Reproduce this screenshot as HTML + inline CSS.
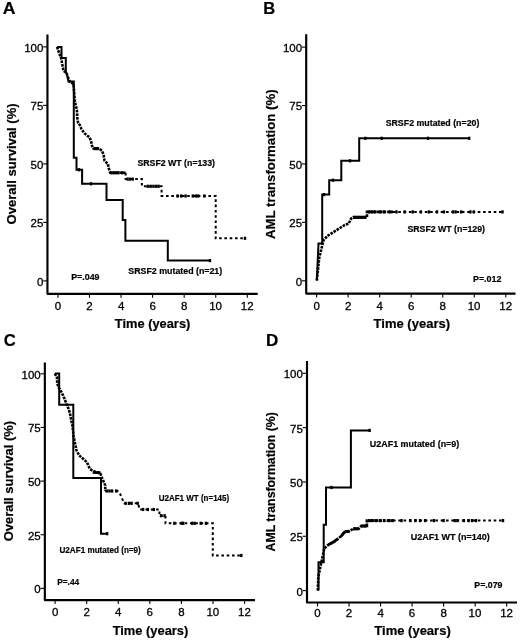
<!DOCTYPE html>
<html><head><meta charset="utf-8"><style>
html,body{margin:0;padding:0;background:#fff;}
svg{display:block;font-family:"Liberation Sans", sans-serif;will-change:transform;filter:blur(0.3px);}
</style></head><body>
<svg width="520" height="642" viewBox="0 0 520 642">
<rect width="520" height="642" fill="#fff"/>
<path d="M47.45,34.4 V293.85 H257.7" fill="none" stroke="#000" stroke-width="2.15" stroke-linejoin="round"/>
<line x1="43.15" y1="46.9" x2="47.45" y2="46.9" stroke="#000" stroke-width="1.1"/>
<text x="24.16" y="51.8" font-size="11.5" font-weight="normal" stroke="#000" stroke-width="0.3">100</text>
<line x1="43.15" y1="105.4" x2="47.45" y2="105.4" stroke="#000" stroke-width="1.1"/>
<text x="30.55" y="110.3" font-size="11.5" font-weight="normal" stroke="#000" stroke-width="0.3">75</text>
<line x1="43.15" y1="163.9" x2="47.45" y2="163.9" stroke="#000" stroke-width="1.1"/>
<text x="30.55" y="168.8" font-size="11.5" font-weight="normal" stroke="#000" stroke-width="0.3">50</text>
<line x1="43.15" y1="222.4" x2="47.45" y2="222.4" stroke="#000" stroke-width="1.1"/>
<text x="30.55" y="227.3" font-size="11.5" font-weight="normal" stroke="#000" stroke-width="0.3">25</text>
<line x1="43.15" y1="280.9" x2="47.45" y2="280.9" stroke="#000" stroke-width="1.1"/>
<text x="36.93" y="285.8" font-size="11.5" font-weight="normal" stroke="#000" stroke-width="0.3">0</text>
<line x1="57.9" y1="293.85" x2="57.9" y2="297.75" stroke="#000" stroke-width="1.1"/>
<text x="54.71" y="309.5" font-size="11.5" font-weight="normal" stroke="#000" stroke-width="0.3">0</text>
<line x1="89.47" y1="293.85" x2="89.47" y2="297.75" stroke="#000" stroke-width="1.1"/>
<text x="86.28" y="309.5" font-size="11.5" font-weight="normal" stroke="#000" stroke-width="0.3">2</text>
<line x1="121.04" y1="293.85" x2="121.04" y2="297.75" stroke="#000" stroke-width="1.1"/>
<text x="117.88" y="309.5" font-size="11.5" font-weight="normal" stroke="#000" stroke-width="0.3">4</text>
<line x1="152.61" y1="293.85" x2="152.61" y2="297.75" stroke="#000" stroke-width="1.1"/>
<text x="149.39" y="309.5" font-size="11.5" font-weight="normal" stroke="#000" stroke-width="0.3">6</text>
<line x1="184.18" y1="293.85" x2="184.18" y2="297.75" stroke="#000" stroke-width="1.1"/>
<text x="180.96" y="309.5" font-size="11.5" font-weight="normal" stroke="#000" stroke-width="0.3">8</text>
<line x1="215.75" y1="293.85" x2="215.75" y2="297.75" stroke="#000" stroke-width="1.1"/>
<text x="209.17" y="309.5" font-size="11.5" font-weight="normal" stroke="#000" stroke-width="0.3">10</text>
<line x1="247.32" y1="293.85" x2="247.32" y2="297.75" stroke="#000" stroke-width="1.1"/>
<text x="240.79" y="309.5" font-size="11.5" font-weight="normal" stroke="#000" stroke-width="0.3">12</text>
<path d="M306.2,34.2 V293.55 H515.5" fill="none" stroke="#000" stroke-width="2.15" stroke-linejoin="round"/>
<line x1="301.9" y1="47.1" x2="306.2" y2="47.1" stroke="#000" stroke-width="1.1"/>
<text x="282.91" y="52" font-size="11.5" font-weight="normal" stroke="#000" stroke-width="0.3">100</text>
<line x1="301.9" y1="105.53" x2="306.2" y2="105.53" stroke="#000" stroke-width="1.1"/>
<text x="289.29" y="110.43" font-size="11.5" font-weight="normal" stroke="#000" stroke-width="0.3">75</text>
<line x1="301.9" y1="163.95" x2="306.2" y2="163.95" stroke="#000" stroke-width="1.1"/>
<text x="289.29" y="168.85" font-size="11.5" font-weight="normal" stroke="#000" stroke-width="0.3">50</text>
<line x1="301.9" y1="222.38" x2="306.2" y2="222.38" stroke="#000" stroke-width="1.1"/>
<text x="289.29" y="227.28" font-size="11.5" font-weight="normal" stroke="#000" stroke-width="0.3">25</text>
<line x1="301.9" y1="280.8" x2="306.2" y2="280.8" stroke="#000" stroke-width="1.1"/>
<text x="295.68" y="285.7" font-size="11.5" font-weight="normal" stroke="#000" stroke-width="0.3">0</text>
<line x1="316.6" y1="293.55" x2="316.6" y2="297.45" stroke="#000" stroke-width="1.1"/>
<text x="313.41" y="309.5" font-size="11.5" font-weight="normal" stroke="#000" stroke-width="0.3">0</text>
<line x1="348.13" y1="293.55" x2="348.13" y2="297.45" stroke="#000" stroke-width="1.1"/>
<text x="344.94" y="309.5" font-size="11.5" font-weight="normal" stroke="#000" stroke-width="0.3">2</text>
<line x1="379.66" y1="293.55" x2="379.66" y2="297.45" stroke="#000" stroke-width="1.1"/>
<text x="376.5" y="309.5" font-size="11.5" font-weight="normal" stroke="#000" stroke-width="0.3">4</text>
<line x1="411.19" y1="293.55" x2="411.19" y2="297.45" stroke="#000" stroke-width="1.1"/>
<text x="407.97" y="309.5" font-size="11.5" font-weight="normal" stroke="#000" stroke-width="0.3">6</text>
<line x1="442.72" y1="293.55" x2="442.72" y2="297.45" stroke="#000" stroke-width="1.1"/>
<text x="439.5" y="309.5" font-size="11.5" font-weight="normal" stroke="#000" stroke-width="0.3">8</text>
<line x1="474.25" y1="293.55" x2="474.25" y2="297.45" stroke="#000" stroke-width="1.1"/>
<text x="467.67" y="309.5" font-size="11.5" font-weight="normal" stroke="#000" stroke-width="0.3">10</text>
<line x1="505.78" y1="293.55" x2="505.78" y2="297.45" stroke="#000" stroke-width="1.1"/>
<text x="499.25" y="309.5" font-size="11.5" font-weight="normal" stroke="#000" stroke-width="0.3">12</text>
<path d="M44.85,362.4 V600.05 H255" fill="none" stroke="#000" stroke-width="2.15" stroke-linejoin="round"/>
<line x1="40.55" y1="373.8" x2="44.85" y2="373.8" stroke="#000" stroke-width="1.1"/>
<text x="21.56" y="378.7" font-size="11.5" font-weight="normal" stroke="#000" stroke-width="0.3">100</text>
<line x1="40.55" y1="427.45" x2="44.85" y2="427.45" stroke="#000" stroke-width="1.1"/>
<text x="27.95" y="432.35" font-size="11.5" font-weight="normal" stroke="#000" stroke-width="0.3">75</text>
<line x1="40.55" y1="481.1" x2="44.85" y2="481.1" stroke="#000" stroke-width="1.1"/>
<text x="27.95" y="486" font-size="11.5" font-weight="normal" stroke="#000" stroke-width="0.3">50</text>
<line x1="40.55" y1="534.75" x2="44.85" y2="534.75" stroke="#000" stroke-width="1.1"/>
<text x="27.95" y="539.65" font-size="11.5" font-weight="normal" stroke="#000" stroke-width="0.3">25</text>
<line x1="40.55" y1="588.4" x2="44.85" y2="588.4" stroke="#000" stroke-width="1.1"/>
<text x="34.33" y="593.3" font-size="11.5" font-weight="normal" stroke="#000" stroke-width="0.3">0</text>
<line x1="55.1" y1="600.05" x2="55.1" y2="603.95" stroke="#000" stroke-width="1.1"/>
<text x="51.91" y="615.5" font-size="11.5" font-weight="normal" stroke="#000" stroke-width="0.3">0</text>
<line x1="86.68" y1="600.05" x2="86.68" y2="603.95" stroke="#000" stroke-width="1.1"/>
<text x="83.49" y="615.5" font-size="11.5" font-weight="normal" stroke="#000" stroke-width="0.3">2</text>
<line x1="118.26" y1="600.05" x2="118.26" y2="603.95" stroke="#000" stroke-width="1.1"/>
<text x="115.1" y="615.5" font-size="11.5" font-weight="normal" stroke="#000" stroke-width="0.3">4</text>
<line x1="149.84" y1="600.05" x2="149.84" y2="603.95" stroke="#000" stroke-width="1.1"/>
<text x="146.62" y="615.5" font-size="11.5" font-weight="normal" stroke="#000" stroke-width="0.3">6</text>
<line x1="181.42" y1="600.05" x2="181.42" y2="603.95" stroke="#000" stroke-width="1.1"/>
<text x="178.2" y="615.5" font-size="11.5" font-weight="normal" stroke="#000" stroke-width="0.3">8</text>
<line x1="213" y1="600.05" x2="213" y2="603.95" stroke="#000" stroke-width="1.1"/>
<text x="206.42" y="615.5" font-size="11.5" font-weight="normal" stroke="#000" stroke-width="0.3">10</text>
<line x1="244.58" y1="600.05" x2="244.58" y2="603.95" stroke="#000" stroke-width="1.1"/>
<text x="238.05" y="615.5" font-size="11.5" font-weight="normal" stroke="#000" stroke-width="0.3">12</text>
<path d="M307,361 V602.5 H517" fill="none" stroke="#000" stroke-width="2.15" stroke-linejoin="round"/>
<line x1="302.7" y1="373.3" x2="307" y2="373.3" stroke="#000" stroke-width="1.1"/>
<text x="283.71" y="378.2" font-size="11.5" font-weight="normal" stroke="#000" stroke-width="0.3">100</text>
<line x1="302.7" y1="427.62" x2="307" y2="427.62" stroke="#000" stroke-width="1.1"/>
<text x="290.09" y="432.52" font-size="11.5" font-weight="normal" stroke="#000" stroke-width="0.3">75</text>
<line x1="302.7" y1="481.95" x2="307" y2="481.95" stroke="#000" stroke-width="1.1"/>
<text x="290.09" y="486.85" font-size="11.5" font-weight="normal" stroke="#000" stroke-width="0.3">50</text>
<line x1="302.7" y1="536.28" x2="307" y2="536.28" stroke="#000" stroke-width="1.1"/>
<text x="290.09" y="541.18" font-size="11.5" font-weight="normal" stroke="#000" stroke-width="0.3">25</text>
<line x1="302.7" y1="590.6" x2="307" y2="590.6" stroke="#000" stroke-width="1.1"/>
<text x="296.48" y="595.5" font-size="11.5" font-weight="normal" stroke="#000" stroke-width="0.3">0</text>
<line x1="317.5" y1="602.5" x2="317.5" y2="606.4" stroke="#000" stroke-width="1.1"/>
<text x="314.31" y="617.1" font-size="11.5" font-weight="normal" stroke="#000" stroke-width="0.3">0</text>
<line x1="349.03" y1="602.5" x2="349.03" y2="606.4" stroke="#000" stroke-width="1.1"/>
<text x="345.84" y="617.1" font-size="11.5" font-weight="normal" stroke="#000" stroke-width="0.3">2</text>
<line x1="380.56" y1="602.5" x2="380.56" y2="606.4" stroke="#000" stroke-width="1.1"/>
<text x="377.4" y="617.1" font-size="11.5" font-weight="normal" stroke="#000" stroke-width="0.3">4</text>
<line x1="412.09" y1="602.5" x2="412.09" y2="606.4" stroke="#000" stroke-width="1.1"/>
<text x="408.87" y="617.1" font-size="11.5" font-weight="normal" stroke="#000" stroke-width="0.3">6</text>
<line x1="443.62" y1="602.5" x2="443.62" y2="606.4" stroke="#000" stroke-width="1.1"/>
<text x="440.4" y="617.1" font-size="11.5" font-weight="normal" stroke="#000" stroke-width="0.3">8</text>
<line x1="475.15" y1="602.5" x2="475.15" y2="606.4" stroke="#000" stroke-width="1.1"/>
<text x="468.57" y="617.1" font-size="11.5" font-weight="normal" stroke="#000" stroke-width="0.3">10</text>
<line x1="506.68" y1="602.5" x2="506.68" y2="606.4" stroke="#000" stroke-width="1.1"/>
<text x="500.15" y="617.1" font-size="11.5" font-weight="normal" stroke="#000" stroke-width="0.3">12</text>
<text x="2.76" y="14.1" font-size="17" font-weight="bold" textLength="12.72" lengthAdjust="spacingAndGlyphs" stroke="#000" stroke-width="0.2">A</text>
<text x="263.22" y="14" font-size="17" font-weight="bold" textLength="11.96" lengthAdjust="spacingAndGlyphs" stroke="#000" stroke-width="0.2">B</text>
<text x="3.73" y="346" font-size="17" font-weight="bold" textLength="12.02" lengthAdjust="spacingAndGlyphs" stroke="#000" stroke-width="0.2">C</text>
<text x="265.99" y="346.1" font-size="17" font-weight="bold" textLength="12.33" lengthAdjust="spacingAndGlyphs" stroke="#000" stroke-width="0.2">D</text>
<text x="114.77" y="327.9" font-size="13" font-weight="bold" textLength="75.55" lengthAdjust="spacingAndGlyphs" stroke="#000" stroke-width="0.2">Time (years)</text>
<text x="373.57" y="328.4" font-size="13" font-weight="bold" textLength="76.46" lengthAdjust="spacingAndGlyphs" stroke="#000" stroke-width="0.2">Time (years)</text>
<text x="112.67" y="635" font-size="13" font-weight="bold" textLength="75.66" lengthAdjust="spacingAndGlyphs" stroke="#000" stroke-width="0.2">Time (years)</text>
<text x="374.37" y="635" font-size="13" font-weight="bold" textLength="76.36" lengthAdjust="spacingAndGlyphs" stroke="#000" stroke-width="0.2">Time (years)</text>
<text transform="translate(15.5,0) rotate(-90)" x="-224.42" y="0" font-size="13" font-weight="bold" textLength="121.04" lengthAdjust="spacingAndGlyphs" stroke="#000" stroke-width="0.2">Overall survival (%)</text>
<text transform="translate(274.6,0) rotate(-90)" x="-238.93" y="0" font-size="13" font-weight="bold" textLength="149.49" lengthAdjust="spacingAndGlyphs" stroke="#000" stroke-width="0.2">AML transformation (%)</text>
<text transform="translate(13.2,0) rotate(-90)" x="-541.32" y="0" font-size="13" font-weight="bold" textLength="120.43" lengthAdjust="spacingAndGlyphs" stroke="#000" stroke-width="0.2">Overall survival (%)</text>
<text transform="translate(275.3,0) rotate(-90)" x="-551.51" y="0" font-size="13" font-weight="bold" textLength="139.33" lengthAdjust="spacingAndGlyphs" stroke="#000" stroke-width="0.2">AML transformation (%)</text>
<text x="137.44" y="166.4" font-size="9.3" font-weight="bold" textLength="77.58" lengthAdjust="spacingAndGlyphs" stroke="#000" stroke-width="0.2">SRSF2 WT (n=133)</text>
<text x="128.34" y="274" font-size="9.3" font-weight="bold" textLength="93.87" lengthAdjust="spacingAndGlyphs" stroke="#000" stroke-width="0.2">SRSF2 mutated (n=21)</text>
<text x="71.22" y="280.4" font-size="9.3" font-weight="bold" textLength="28.31" lengthAdjust="spacingAndGlyphs" stroke="#000" stroke-width="0.2">P=.049</text>
<text x="385.64" y="125.9" font-size="9.3" font-weight="bold" textLength="93.77" lengthAdjust="spacingAndGlyphs" stroke="#000" stroke-width="0.2">SRSF2 mutated (n=20)</text>
<text x="407.44" y="231.9" font-size="9.3" font-weight="bold" textLength="77.58" lengthAdjust="spacingAndGlyphs" stroke="#000" stroke-width="0.2">SRSF2 WT (n=129)</text>
<text x="472.92" y="281.8" font-size="9.3" font-weight="bold" textLength="28.66" lengthAdjust="spacingAndGlyphs" stroke="#000" stroke-width="0.2">P=.012</text>
<text x="158.72" y="501.3" font-size="9.3" font-weight="bold" textLength="70.46" lengthAdjust="spacingAndGlyphs" stroke="#000" stroke-width="0.2">U2AF1 WT (n=145)</text>
<text x="59.51" y="553.1" font-size="9.3" font-weight="bold" textLength="81.29" lengthAdjust="spacingAndGlyphs" stroke="#000" stroke-width="0.2">U2AF1 mutated (n=9)</text>
<text x="57.16" y="585.2" font-size="9.3" font-weight="bold" textLength="22.1" lengthAdjust="spacingAndGlyphs" stroke="#000" stroke-width="0.2">P=.44</text>
<text x="369.87" y="447" font-size="9.3" font-weight="bold" textLength="89.38" lengthAdjust="spacingAndGlyphs" stroke="#000" stroke-width="0.2">U2AF1 mutated (n=9)</text>
<text x="410.66" y="540.4" font-size="9.3" font-weight="bold" textLength="79.16" lengthAdjust="spacingAndGlyphs" stroke="#000" stroke-width="0.2">U2AF1 WT (n=140)</text>
<text x="474.33" y="587.8" font-size="9.3" font-weight="bold" textLength="28.2" lengthAdjust="spacingAndGlyphs" stroke="#000" stroke-width="0.2">P=.079</text>
<path d="M57,46.9 H61.5 V58.1 H65.8 V70.8 L67.3,76.2 L68.5,81.5 H73.8 V157.8 H76.5 V169.8 H82.1 V183.8 H106.5 V200 H122.7 V220 H125.4 V240.8 H167.8 V260.6 H210" fill="none" stroke="#000" stroke-width="2.0" stroke-linejoin="miter"/>
<line x1="79" y1="168.2" x2="79" y2="171.4" stroke="#000" stroke-width="2.4"/>
<line x1="91" y1="182.2" x2="91" y2="185.4" stroke="#000" stroke-width="2.4"/>
<line x1="210" y1="259" x2="210" y2="262.2" stroke="#000" stroke-width="2.4"/>
<path d="M57,46.9 L59.2,53.1 L61.2,58.5 L62.7,66.9 L63.5,70.8 L66.5,73 L68.5,78.5 L70,82 L73.5,84 L74.2,93 L75,102.3 L76.9,110 L77.3,117.7 L78.1,123 L80,125.4 L81.4,128.8 L84.3,133.2 L89.6,137.5 L91.1,141.3 L92,145.7 L93.5,148.6 H99.2 L102.1,151 L103.6,154.8 L104.5,160.6 L107.9,164 L108.8,168.5 L110.3,172.8 H125.6" fill="none" stroke="#000" stroke-width="2.6" stroke-linejoin="miter" stroke-dasharray="2.6 1.0"/>
<path d="M125.6,172.8 V179.1 H141.9 V186.3 H161.6 V196 H215.7 V238.3 H245" fill="none" stroke="#000" stroke-width="2.0" stroke-linejoin="miter" stroke-dasharray="2.6 2.7"/>
<line x1="111.3" y1="171.2" x2="111.3" y2="174.4" stroke="#000" stroke-width="2.4"/>
<line x1="113.7" y1="171.2" x2="113.7" y2="174.4" stroke="#000" stroke-width="2.4"/>
<line x1="116" y1="171.2" x2="116" y2="174.4" stroke="#000" stroke-width="2.4"/>
<line x1="118.3" y1="171.2" x2="118.3" y2="174.4" stroke="#000" stroke-width="2.4"/>
<line x1="122.3" y1="171.2" x2="122.3" y2="174.4" stroke="#000" stroke-width="2.4"/>
<line x1="127.5" y1="177.5" x2="127.5" y2="180.7" stroke="#000" stroke-width="2.4"/>
<line x1="129.8" y1="177.5" x2="129.8" y2="180.7" stroke="#000" stroke-width="2.4"/>
<line x1="132.7" y1="177.5" x2="132.7" y2="180.7" stroke="#000" stroke-width="2.4"/>
<line x1="147.7" y1="184.7" x2="147.7" y2="187.9" stroke="#000" stroke-width="2.4"/>
<line x1="150.6" y1="184.7" x2="150.6" y2="187.9" stroke="#000" stroke-width="2.4"/>
<line x1="153.4" y1="184.7" x2="153.4" y2="187.9" stroke="#000" stroke-width="2.4"/>
<line x1="156.3" y1="184.7" x2="156.3" y2="187.9" stroke="#000" stroke-width="2.4"/>
<line x1="158.6" y1="184.7" x2="158.6" y2="187.9" stroke="#000" stroke-width="2.4"/>
<line x1="177.5" y1="194.4" x2="177.5" y2="197.6" stroke="#000" stroke-width="2.4"/>
<line x1="181.2" y1="194.4" x2="181.2" y2="197.6" stroke="#000" stroke-width="2.4"/>
<line x1="185.6" y1="194.4" x2="185.6" y2="197.6" stroke="#000" stroke-width="2.4"/>
<line x1="192.8" y1="194.4" x2="192.8" y2="197.6" stroke="#000" stroke-width="2.4"/>
<line x1="195.8" y1="194.4" x2="195.8" y2="197.6" stroke="#000" stroke-width="2.4"/>
<line x1="198.2" y1="194.4" x2="198.2" y2="197.6" stroke="#000" stroke-width="2.4"/>
<line x1="204.4" y1="194.4" x2="204.4" y2="197.6" stroke="#000" stroke-width="2.4"/>
<line x1="245" y1="236.7" x2="245" y2="239.9" stroke="#000" stroke-width="2.4"/>
<path d="M316.8,280.5 L318.5,243.6 H322.2 V194.6 H329.2 V180.2 H341.3 V160.8 H359.2 V138.3 H469.2" fill="none" stroke="#000" stroke-width="2.0" stroke-linejoin="miter"/>
<line x1="324" y1="193" x2="324" y2="196.2" stroke="#000" stroke-width="2.4"/>
<line x1="333" y1="178.6" x2="333" y2="181.8" stroke="#000" stroke-width="2.4"/>
<line x1="350" y1="159.2" x2="350" y2="162.4" stroke="#000" stroke-width="2.4"/>
<line x1="365.4" y1="136.7" x2="365.4" y2="139.9" stroke="#000" stroke-width="2.4"/>
<line x1="381.7" y1="136.7" x2="381.7" y2="139.9" stroke="#000" stroke-width="2.4"/>
<line x1="428" y1="136.7" x2="428" y2="139.9" stroke="#000" stroke-width="2.4"/>
<line x1="469.2" y1="136.7" x2="469.2" y2="139.9" stroke="#000" stroke-width="2.4"/>
<path d="M316.8,280.5 L319.3,257.3 L321.8,247.3 L323.7,239.9 L328.1,235.5 L334.9,231.2 L339.9,228 L344.9,224.9 L348.6,223.7 L351.1,218.7 L353,217.3 H367 V211.9 H393" fill="none" stroke="#000" stroke-width="2.6" stroke-linejoin="miter" stroke-dasharray="2.6 1.0"/>
<path d="M393,211.9 H503" fill="none" stroke="#000" stroke-width="2.0" stroke-linejoin="miter" stroke-dasharray="2.6 2.7"/>
<line x1="369" y1="210.3" x2="369" y2="213.5" stroke="#000" stroke-width="2.4"/>
<line x1="372" y1="210.3" x2="372" y2="213.5" stroke="#000" stroke-width="2.4"/>
<line x1="375" y1="210.3" x2="375" y2="213.5" stroke="#000" stroke-width="2.4"/>
<line x1="380" y1="210.3" x2="380" y2="213.5" stroke="#000" stroke-width="2.4"/>
<line x1="384" y1="210.3" x2="384" y2="213.5" stroke="#000" stroke-width="2.4"/>
<line x1="390" y1="210.3" x2="390" y2="213.5" stroke="#000" stroke-width="2.4"/>
<line x1="396.5" y1="210.3" x2="396.5" y2="213.5" stroke="#000" stroke-width="2.4"/>
<line x1="404.6" y1="210.3" x2="404.6" y2="213.5" stroke="#000" stroke-width="2.4"/>
<line x1="412.7" y1="210.3" x2="412.7" y2="213.5" stroke="#000" stroke-width="2.4"/>
<line x1="420.8" y1="210.3" x2="420.8" y2="213.5" stroke="#000" stroke-width="2.4"/>
<line x1="428.9" y1="210.3" x2="428.9" y2="213.5" stroke="#000" stroke-width="2.4"/>
<line x1="437" y1="210.3" x2="437" y2="213.5" stroke="#000" stroke-width="2.4"/>
<line x1="443.9" y1="210.3" x2="443.9" y2="213.5" stroke="#000" stroke-width="2.4"/>
<line x1="453.1" y1="210.3" x2="453.1" y2="213.5" stroke="#000" stroke-width="2.4"/>
<line x1="455.6" y1="210.3" x2="455.6" y2="213.5" stroke="#000" stroke-width="2.4"/>
<line x1="461.2" y1="210.3" x2="461.2" y2="213.5" stroke="#000" stroke-width="2.4"/>
<line x1="470.4" y1="210.3" x2="470.4" y2="213.5" stroke="#000" stroke-width="2.4"/>
<line x1="473.9" y1="210.3" x2="473.9" y2="213.5" stroke="#000" stroke-width="2.4"/>
<line x1="502.5" y1="210.3" x2="502.5" y2="213.5" stroke="#000" stroke-width="2.4"/>
<path d="M54.8,373.6 H59.2 V404.7 H73.3 V478.1 H101 V533.7 H107.1" fill="none" stroke="#000" stroke-width="2.0" stroke-linejoin="miter"/>
<line x1="107.1" y1="532.1" x2="107.1" y2="535.3" stroke="#000" stroke-width="2.4"/>
<path d="M54.8,373.6 L56.9,377.1 L57.3,383.7 L58.7,387.4 L62,393 L64.4,398.6 L66.7,404.3 L69,409.9 L70.4,415.5 L71.4,421.1 L72.5,426 L73.7,437 L76.5,450.4 L79.2,455.4 L86.9,462.1 L89.8,468.8 L92.7,470.8 L100.4,473.7 L102.3,478.5 L105.2,485.2 V491" fill="none" stroke="#000" stroke-width="2.6" stroke-linejoin="miter" stroke-dasharray="2.6 1.0"/>
<path d="M105.2,491 H117.7 L120.2,494.1 L122.2,498.8 L124.2,503.3 H138.4 L139,507.6 L139.5,509.5 H159.4 V515.7 H165.5 V523.3 H212.8 V555.5 H241.3" fill="none" stroke="#000" stroke-width="2.0" stroke-linejoin="miter" stroke-dasharray="2.6 2.7"/>
<line x1="106.7" y1="489.4" x2="106.7" y2="492.6" stroke="#000" stroke-width="2.4"/>
<line x1="109.4" y1="489.4" x2="109.4" y2="492.6" stroke="#000" stroke-width="2.4"/>
<line x1="112.1" y1="489.4" x2="112.1" y2="492.6" stroke="#000" stroke-width="2.4"/>
<line x1="116.2" y1="489.4" x2="116.2" y2="492.6" stroke="#000" stroke-width="2.4"/>
<line x1="125.6" y1="501.7" x2="125.6" y2="504.9" stroke="#000" stroke-width="2.4"/>
<line x1="128.9" y1="501.7" x2="128.9" y2="504.9" stroke="#000" stroke-width="2.4"/>
<line x1="131.6" y1="501.7" x2="131.6" y2="504.9" stroke="#000" stroke-width="2.4"/>
<line x1="137.7" y1="501.7" x2="137.7" y2="504.9" stroke="#000" stroke-width="2.4"/>
<line x1="143.1" y1="507.9" x2="143.1" y2="511.1" stroke="#000" stroke-width="2.4"/>
<line x1="147.8" y1="507.9" x2="147.8" y2="511.1" stroke="#000" stroke-width="2.4"/>
<line x1="153.8" y1="507.9" x2="153.8" y2="511.1" stroke="#000" stroke-width="2.4"/>
<line x1="161" y1="514.1" x2="161" y2="517.3" stroke="#000" stroke-width="2.4"/>
<line x1="164.6" y1="514.1" x2="164.6" y2="517.3" stroke="#000" stroke-width="2.4"/>
<line x1="174.3" y1="521.7" x2="174.3" y2="524.9" stroke="#000" stroke-width="2.4"/>
<line x1="181.7" y1="521.7" x2="181.7" y2="524.9" stroke="#000" stroke-width="2.4"/>
<line x1="183.2" y1="521.7" x2="183.2" y2="524.9" stroke="#000" stroke-width="2.4"/>
<line x1="192.3" y1="521.7" x2="192.3" y2="524.9" stroke="#000" stroke-width="2.4"/>
<line x1="194.6" y1="521.7" x2="194.6" y2="524.9" stroke="#000" stroke-width="2.4"/>
<line x1="200.7" y1="521.7" x2="200.7" y2="524.9" stroke="#000" stroke-width="2.4"/>
<line x1="206" y1="521.7" x2="206" y2="524.9" stroke="#000" stroke-width="2.4"/>
<line x1="241.3" y1="553.9" x2="241.3" y2="557.1" stroke="#000" stroke-width="2.4"/>
<path d="M318.5,590.6 V562.2 H323.7 V524.8 H326 V487.5 H350.9 V430.4 H369.6" fill="none" stroke="#000" stroke-width="2.0" stroke-linejoin="miter"/>
<line x1="331.5" y1="485.9" x2="331.5" y2="489.1" stroke="#000" stroke-width="2.4"/>
<line x1="369.6" y1="428.8" x2="369.6" y2="432" stroke="#000" stroke-width="2.4"/>
<path d="M317.8,590.6 L318.3,577.2 L320.1,567.9 L323,554.8 L324.2,548.4 L328.8,544.4 L333.5,542.1 L338.1,538.6 L341,536.3 L343.3,533.5 L345,531.7 L349.6,531.1 L353.1,528.8 H358.8 L361.1,526 H366.9 V520.6 H393" fill="none" stroke="#000" stroke-width="2.6" stroke-linejoin="miter" stroke-dasharray="2.6 1.0"/>
<path d="M393,520.6 H504" fill="none" stroke="#000" stroke-width="2.0" stroke-linejoin="miter" stroke-dasharray="2.6 2.7"/>
<line x1="369" y1="519" x2="369" y2="522.2" stroke="#000" stroke-width="2.4"/>
<line x1="372" y1="519" x2="372" y2="522.2" stroke="#000" stroke-width="2.4"/>
<line x1="376" y1="519" x2="376" y2="522.2" stroke="#000" stroke-width="2.4"/>
<line x1="380" y1="519" x2="380" y2="522.2" stroke="#000" stroke-width="2.4"/>
<line x1="384" y1="519" x2="384" y2="522.2" stroke="#000" stroke-width="2.4"/>
<line x1="389" y1="519" x2="389" y2="522.2" stroke="#000" stroke-width="2.4"/>
<line x1="392.8" y1="519" x2="392.8" y2="522.2" stroke="#000" stroke-width="2.4"/>
<line x1="401.5" y1="519" x2="401.5" y2="522.2" stroke="#000" stroke-width="2.4"/>
<line x1="410.3" y1="519" x2="410.3" y2="522.2" stroke="#000" stroke-width="2.4"/>
<line x1="415.4" y1="519" x2="415.4" y2="522.2" stroke="#000" stroke-width="2.4"/>
<line x1="420" y1="519" x2="420" y2="522.2" stroke="#000" stroke-width="2.4"/>
<line x1="425.1" y1="519" x2="425.1" y2="522.2" stroke="#000" stroke-width="2.4"/>
<line x1="433.9" y1="519" x2="433.9" y2="522.2" stroke="#000" stroke-width="2.4"/>
<line x1="443.6" y1="519" x2="443.6" y2="522.2" stroke="#000" stroke-width="2.4"/>
<line x1="454.7" y1="519" x2="454.7" y2="522.2" stroke="#000" stroke-width="2.4"/>
<line x1="457.4" y1="519" x2="457.4" y2="522.2" stroke="#000" stroke-width="2.4"/>
<line x1="463.9" y1="519" x2="463.9" y2="522.2" stroke="#000" stroke-width="2.4"/>
<line x1="468.5" y1="519" x2="468.5" y2="522.2" stroke="#000" stroke-width="2.4"/>
<line x1="472" y1="519" x2="472" y2="522.2" stroke="#000" stroke-width="2.4"/>
<line x1="475.9" y1="519" x2="475.9" y2="522.2" stroke="#000" stroke-width="2.4"/>
<line x1="503" y1="519" x2="503" y2="522.2" stroke="#000" stroke-width="2.4"/>
<line x1="93.5" y1="148.6" x2="99.2" y2="148.6" stroke="#000" stroke-width="3.2"/>
<line x1="353" y1="217.3" x2="366.5" y2="217.3" stroke="#000" stroke-width="3.2"/>
<line x1="353.1" y1="528.8" x2="358.8" y2="528.8" stroke="#000" stroke-width="3.2"/>
<line x1="361.1" y1="526" x2="366.9" y2="526" stroke="#000" stroke-width="3.2"/>
<line x1="345" y1="531.5" x2="349.6" y2="531.5" stroke="#000" stroke-width="2.8"/>
<line x1="92.7" y1="472.5" x2="100.4" y2="472.5" stroke="#000" stroke-width="2.8"/>
<path d="M328.8,544.4 L333.5,542.1 L338.1,538.6" fill="none" stroke="#000" stroke-width="2.8"/>
<path d="M341,536.3 L343.3,533.5 L345,531.7" fill="none" stroke="#000" stroke-width="2.8"/>
</svg>
</body></html>
